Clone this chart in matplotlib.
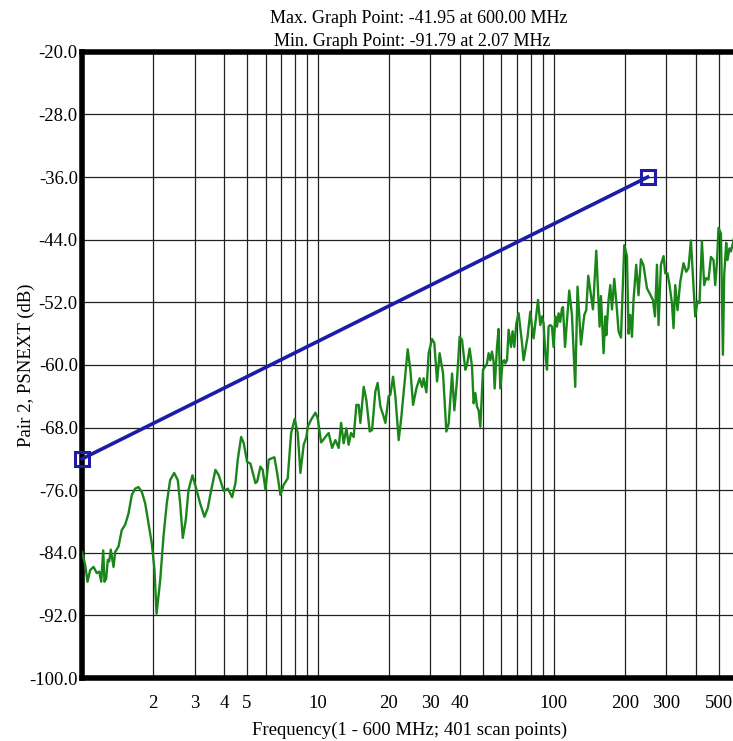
import numpy as np
import matplotlib
matplotlib.use("Agg")
import matplotlib.pyplot as plt

plt.rcParams['font.family'] = ['Liberation Serif', 'DejaVu Serif']

freq_mhz = [1.0, 1.032, 1.055, 1.083, 1.119, 1.155, 1.183, 1.206, 1.230, 1.245,
            1.266, 1.286, 1.304, 1.324, 1.360, 1.382, 1.428, 1.474, 1.524, 1.574,
            1.626, 1.680, 1.735, 1.792, 1.853, 1.913, 1.976, 2.029, 2.07, 2.145,
            2.215, 2.287, 2.364, 2.458, 2.546, 2.607, 2.674, 2.754, 2.827, 2.939,
            3.035, 3.168, 3.304, 3.413, 3.528, 3.679, 3.799, 3.990, 4.149, 4.329,
            4.471, 4.573, 4.727, 4.849, 5.012, 5.176, 5.435, 5.526, 5.706, 5.835,
            5.991, 6.187, 6.396, 6.542, 6.717, 6.937, 7.164, 7.447, 7.700, 7.975,
            8.212, 8.430, 8.706, 8.939, 9.053, 9.358, 9.759, 9.98, 10.32, 10.52,
            10.76, 11.11, 11.49, 11.86, 12.25, 12.54, 12.86, 13.21, 13.50, 13.82,
            14.18, 14.56, 14.89, 15.14, 15.64, 16.05, 16.58, 16.97, 17.52, 17.92,
            18.40, 19.00, 19.32, 19.95, 20.29, 20.83, 21.30, 22.00, 22.59, 23.49,
            24.03, 24.66, 25.32, 26.15, 27.00, 27.64, 28.08, 28.83, 29.48, 30.47,
            31.16, 32.00, 32.82, 33.93, 35.04, 35.84, 37.05, 37.89, 38.89, 39.89,
            40.83, 42.17, 42.88, 43.98, 45.02, 45.73, 46.50, 47.27, 48.02, 48.83,
            50.12, 51.25, 52.11, 52.93, 53.81, 54.71, 55.58, 56.13, 57.45, 58.36,
            59.34, 60.69, 61.71, 62.31, 63.35, 64.35, 65.87, 66.91, 68.03, 69.37,
            70.94, 72.14, 73.35, 74.47, 75.72, 77.45, 79.51, 80.84, 82.12, 83.50,
            85.73, 87.67, 89.13, 90.54, 92.05, 93.59, 95.06, 96.65, 98.26, 99.8,
            101.5, 103.2, 104.8, 106.5, 108.3, 109.4, 111.6, 113.7, 116.3, 119.4,
            123.3, 126.1, 130.4, 134.7, 137.3, 140.0, 146.6, 151.4, 156.4, 158.5,
            162.6, 165.3, 167.0, 170.7, 173.6, 176.5, 180.5, 185.3, 188.2, 192.7,
            199.0, 204.3, 207.5, 211.0, 214.5, 217.8, 223.6, 228.7, 234.1, 240.2,
            248.3, 256.4, 263.3, 268.5, 273.8, 278.1, 284.6, 292.0, 296.9, 303.6,
            309.6, 316.9, 321.9, 327.3, 334.7, 343.6, 354.8, 364.3, 372.6, 381.4,
            388.9, 397.8, 406.8, 414.8, 424.6, 434.2, 442.8, 452.8, 463.6, 475.5,
            483.5, 491.6, 499.3, 511.2, 521.2, 527.9, 538.3, 545.1, 555.9, 563.5,
            574.6, 600.0]
psnext_db = [-83.9, -85.6, -87.7, -86.2, -85.8, -86.6, -86.4, -87.7, -83.7, -87.7,
             -87.3, -84.9, -85.1, -83.6, -85.8, -83.9, -83.2, -81.1, -80.4, -79.0,
             -76.6, -75.8, -75.6, -76.2, -77.7, -80.2, -82.8, -86.2, -91.79, -87.5,
             -81.9, -77.7, -74.7, -73.8, -74.7, -77.7, -82.1, -79.8, -76.0, -74.1,
             -75.6, -77.7, -79.4, -78.3, -76.0, -73.4, -74.1, -76.1, -75.8, -76.9,
             -75.1, -72.1, -69.2, -70.0, -72.4, -72.6, -75.1, -74.9, -73.0, -73.4,
             -75.9, -72.1, -71.9, -71.8, -73.8, -76.6, -75.3, -74.5, -68.7, -66.9,
             -68.7, -73.8, -70.2, -69.2, -67.9, -67.0, -66.1, -66.8, -69.9, -69.6,
             -69.2, -68.7, -70.6, -69.6, -70.6, -67.4, -70.0, -68.1, -70.2, -68.7,
             -69.2, -65.1, -65.1, -67.4, -62.8, -64.5, -68.5, -68.3, -63.4, -62.3,
             -65.3, -66.6, -67.4, -64.0, -63.8, -61.5, -64.0, -69.6, -66.6, -61.1,
             -58.0, -60.6, -65.1, -63.0, -61.7, -62.8, -61.7, -63.5, -58.5, -56.7,
             -57.2, -62.1, -58.5, -61.1, -68.5, -67.5, -61.1, -65.8, -61.9, -56.4,
             -56.8, -60.6, -60.0, -57.9, -60.2, -64.9, -63.6, -65.3, -65.8, -67.9,
             -60.6, -60.2, -59.8, -58.5, -59.4, -58.3, -59.6, -63.0, -57.7, -55.4,
             -63.0, -59.6, -59.4, -59.8, -59.4, -55.5, -57.7, -55.7, -57.7, -54.7,
             -53.4, -55.3, -57.2, -59.4, -58.1, -56.4, -53.2, -55.1, -56.6, -54.7,
             -51.7, -54.9, -53.8, -54.7, -58.5, -60.6, -55.1, -54.9, -55.1, -57.7,
             -53.8, -55.1, -53.4, -54.5, -52.8, -52.6, -57.7, -54.5, -50.5, -53.6,
             -62.8, -50.0, -57.4, -53.6, -53.0, -48.6, -52.9, -45.4, -55.1, -51.2,
             -58.5, -53.8, -56.2, -51.7, -49.8, -52.9, -49.0, -53.0, -55.7, -56.5,
             -44.7, -46.1, -56.0, -53.6, -56.4, -51.7, -47.2, -51.1, -46.5, -47.3,
             -50.2, -51.0, -51.7, -53.8, -47.2, -54.9, -47.2, -46.1, -48.3, -48.3,
             -49.8, -52.1, -55.3, -49.8, -53.0, -49.4, -47.0, -48.1, -47.6, -44.1,
             -48.5, -53.8, -51.9, -52.1, -44.2, -49.8, -48.9, -49.1, -46.2, -46.6,
             -49.8, -47.0, -42.5, -43.2, -58.7, -48.5, -44.4, -46.6, -45.1, -45.5,
             -44.4, -41.95]

# limit line
limit_freq = [1.0, 250.0]
limit_db = [-72.0, -36.0]

x_major = [2, 3, 4, 5, 10, 20, 30, 40, 100, 200, 300, 500]
x_minor = [6, 7, 8, 9, 50, 60, 70, 80, 90, 400, 600]
y_ticks = np.arange(-100, -19, 8)

fig = plt.figure(figsize=(7.33, 7.41), dpi=100)
ax = fig.add_axes([0.1119, 0.085, 0.894, 0.845])

ax.plot(freq_mhz, psnext_db, color='#1a861a', lw=1.7, zorder=3)
ax.plot(limit_freq, limit_db, color='#1c1ca6', lw=2.6, marker='s', ms=10,
        mfc='none', mec='#1c1ca6', mew=2.2, zorder=4, clip_on=False)

ax.set_xscale('log')
ax.set_xlim(1, 600)
ax.set_ylim(-100, -20)
ax.set_xticks(x_major)
ax.set_xticklabels([str(v) for v in x_major])
ax.set_xticks(x_minor, minor=True)
ax.xaxis.set_minor_formatter(plt.NullFormatter())
ax.set_yticks(y_ticks)
ax.set_yticklabels(['%.1f' % v for v in y_ticks])
ax.tick_params(which='both', length=0, labelsize=13.5)
ax.tick_params(axis='x', pad=12)
ax.tick_params(axis='y', pad=3)
ax.grid(True, which='both', color='#222222', lw=0.9)
ax.set_axisbelow(True)

for side in ['left', 'top', 'bottom']:
    ax.spines[side].set_linewidth(4)
    ax.spines[side].set_color('black')
ax.spines['right'].set_visible(False)

ax.set_xlabel('Frequency(1 - 600 MHz; 401 scan points)', fontsize=13.5)
ax.xaxis.set_label_coords(0.5, -0.069)
ax.set_ylabel('Pair 2, PSNEXT (dB)', fontsize=13.5, labelpad=-4)

fig.text(0.571, 0.975, 'Max. Graph Point: -41.95 at 600.00 MHz',
         ha='center', va='center', fontsize=13)
fig.text(0.562, 0.944, 'Min. Graph Point: -91.79 at 2.07 MHz',
         ha='center', va='center', fontsize=13)

fig.savefig('out.png', dpi=100)
